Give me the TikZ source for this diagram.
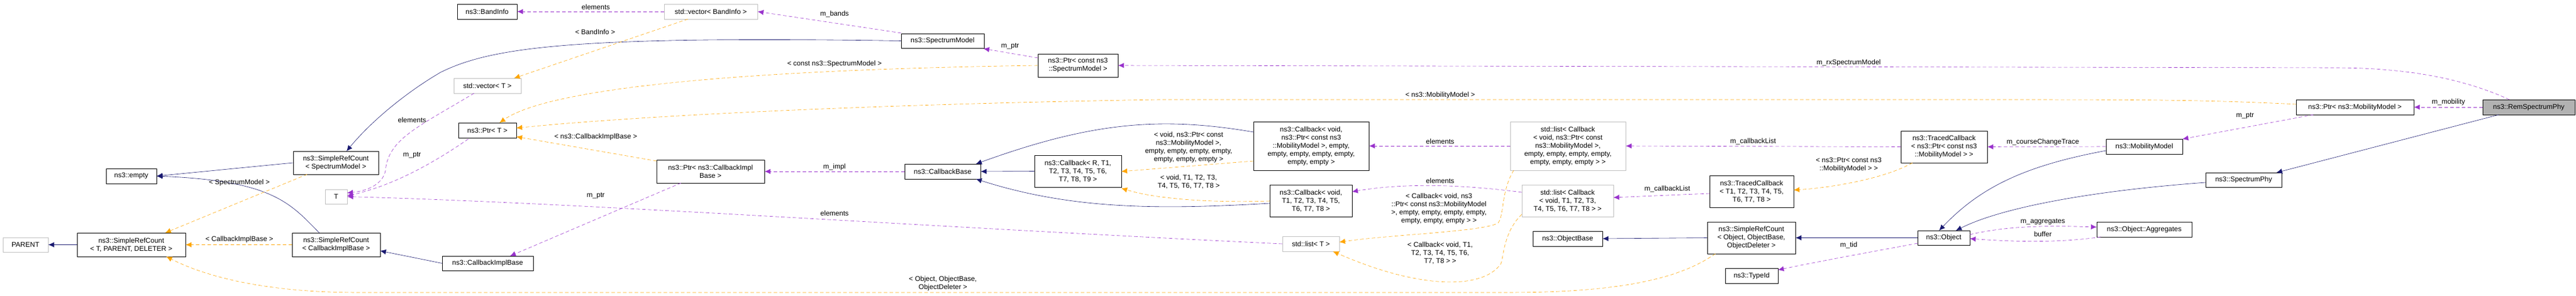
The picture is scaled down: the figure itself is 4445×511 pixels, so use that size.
\documentclass[tikz,border=0pt]{standalone}
\usepackage{fontspec}
\setmainfont{Liberation Sans}
\usetikzlibrary{arrows.meta}
\definecolor{navy}{RGB}{25,25,112}
\definecolor{orch}{RGB}{153,50,204}
\definecolor{orng}{RGB}{255,165,0}
\definecolor{gbord}{RGB}{191,191,191}
\begin{document}
\begin{tikzpicture}[x=1pt,y=-1pt,
 font=\fontsize{12}{14}\selectfont,
 box/.style={draw=black,thick,fill=white,inner sep=0pt,align=center},
 gbox/.style={box,draw=gbord},
 lbl/.style={inner sep=0pt,align=center},
 inh/.style={draw=navy,semithick,-{Latex[length=10pt,width=9pt]}},
 use/.style={draw=orch,semithick,dashed,dash pattern=on 6pt off 4pt,-{Latex[length=10pt,width=9pt]}},
 tpl/.style={draw=orng,semithick,dashed,dash pattern=on 6pt off 4pt,-{Latex[length=10pt,width=9pt]}}]
\useasboundingbox (0,0) rectangle (4445,511);
% nodes
\node[box,minimum width=87,minimum height=26] (empty) at (226.5,304) {ns3::empty};
\node[gbox,minimum width=78,minimum height=25] (parent) at (44,422.5) {PARENT};
\node[box,minimum width=187,minimum height=41] (srcT) at (226.5,422.5) {ns3::SimpleRefCount\\\textless{} T, PARENT, DELETER \textgreater};
\node[box,minimum width=147,minimum height=40] (srcSM) at (579.5,281) {ns3::SimpleRefCount\\\textless{} SpectrumModel \textgreater};
\node[gbox,minimum width=38,minimum height=25] (T) at (580,339.5) {T};
\node[box,minimum width=152,minimum height=41] (srcCIB) at (580,422.5) {ns3::SimpleRefCount\\\textless{} CallbackImplBase \textgreater};
\node[box,minimum width=103,minimum height=26] (bandinfo) at (840.5,20) {ns3::BandInfo};
\node[gbox,minimum width=161,minimum height=26] (vecBI) at (1226.5,20) {std::vector\textless{} BandInfo \textgreater};
\node[gbox,minimum width=116,minimum height=26] (vecT) at (841,148) {std::vector\textless{} T \textgreater};
\node[box,minimum width=100,minimum height=26] (ptrT) at (841,225) {ns3::Ptr\textless{} T \textgreater};
\node[box,minimum width=186,minimum height=40] (ptrCIB) at (1226,296) {ns3::Ptr\textless{} ns3::CallbackImpl\\Base \textgreater};
\node[box,minimum width=157,minimum height=25] (cib) at (841.5,454.5) {ns3::CallbackImplBase};
\node[box,minimum width=143,minimum height=25] (sm) at (1626.5,70.5) {ns3::SpectrumModel};
\node[box,minimum width=138,minimum height=40] (ptrSM) at (1860,113) {ns3::Ptr\textless{} const ns3\\::SpectrumModel \textgreater};
\node[box,minimum width=131,minimum height=26] (cbBase) at (1626.5,296) {ns3::CallbackBase};
\node[box,minimum width=150,minimum height=55] (cbR) at (1860,295.5) {ns3::Callback\textless{} R, T1,\\T2, T3, T4, T5, T6,\\T7, T8, T9 \textgreater};
\node[box,minimum width=199,minimum height=84] (cbPtr) at (2262.5,252) {ns3::Callback\textless{} void,\\ns3::Ptr\textless{} const ns3\\::MobilityModel \textgreater, empty,\\empty, empty, empty, empty,\\empty, empty \textgreater};
\node[gbox,minimum width=199,minimum height=84] (listPtr) at (2705.5,252) {std::list\textless{} Callback\\\textless{} void, ns3::Ptr\textless{} const\\ns3::MobilityModel \textgreater,\\empty, empty, empty, empty,\\empty, empty, empty \textgreater{} \textgreater};
\node[box,minimum width=142,minimum height=55] (cbT1) at (2262,346.5) {ns3::Callback\textless{} void,\\T1, T2, T3, T4, T5,\\T6, T7, T8 \textgreater};
\node[gbox,minimum width=158,minimum height=55] (listT1) at (2705,346.5) {std::list\textless{} Callback\\\textless{} void, T1, T2, T3,\\T4, T5, T6, T7, T8 \textgreater{} \textgreater};
\node[gbox,minimum width=98,minimum height=26] (listT) at (2262,421) {std::list\textless{} T \textgreater};
\node[box,minimum width=120,minimum height=26] (objBase) at (2705,412) {ns3::ObjectBase};
\node[box,minimum width=149,minimum height=55] (tcPtr) at (3354.5,253.5) {ns3::TracedCallback\\\textless{} ns3::Ptr\textless{} const ns3\\::MobilityModel \textgreater{} \textgreater};
\node[box,minimum width=145,minimum height=55] (tcT1) at (3022.5,330.5) {ns3::TracedCallback\\\textless{} T1, T2, T3, T4, T5,\\T6, T7, T8 \textgreater};
\node[box,minimum width=152,minimum height=55] (srcObj) at (3022,410.5) {ns3::SimpleRefCount\\\textless{} Object, ObjectBase,\\ObjectDeleter \textgreater};
\node[box,minimum width=90,minimum height=25] (object) at (3354,410.5) {ns3::Object};
\node[box,minimum width=91,minimum height=26] (typeId) at (3022.5,476) {ns3::TypeId};
\node[box,minimum width=203,minimum height=26] (ptrMM) at (4063.5,185) {ns3::Ptr\textless{} ns3::MobilityModel \textgreater};
\node[box,fill=gray!60,minimum width=159,minimum height=26] (rem) at (4363.5,185) {ns3::RemSpectrumPhy};
\node[box,minimum width=132,minimum height=26] (mm) at (3700,253) {ns3::MobilityModel};
\node[box,minimum width=131,minimum height=25] (sphy) at (3871.5,310.5) {ns3::SpectrumPhy};
\node[box,minimum width=164,minimum height=26] (agg) at (3700,396) {ns3::Object::Aggregates};
% coordinates
\coordinate (srcSMbl) at (530,301);
\coordinate (srcTtop) at (285,402);
\coordinate (srcTbot) at (287,443);
\coordinate (srcSMtop) at (598,261);
\coordinate (srcCIBtop) at (551,402);
\coordinate (srcCIBr) at (656,433);
\coordinate (smtl) at (1555,57);
\coordinate (smbr) at (1697,84);
\coordinate (ptrSMl) at (1791,100);
\coordinate (remtop) at (4330,172);
\coordinate (ptrMMb) at (3992,198);
\coordinate (mmtr) at (3766,240);
\coordinate (mmbl) at (3634,260);
\coordinate (tcT1l) at (2950,334);
\coordinate (listT1r) at (2784,341);
\coordinate (listT1l) at (2626,332);
\coordinate (cbT1r) at (2333,331);
\coordinate (ptrCIBb) at (1175,316);
\coordinate (cibt) at (880,442);
\coordinate (vecTb) at (818,161);
\coordinate (Ttr) at (599,333);
\coordinate (ptrTb) at (808,240);
\coordinate (Tr) at (599,338);
\coordinate (objbl) at (3309,420);
\coordinate (tidr) at (3068,466);
\coordinate (objtr) at (3399,405);
\coordinate (aggl) at (3618,392);
\coordinate (aggbl) at (3625,409);
\coordinate (objr) at (3399,412);
\coordinate (srcObjb) at (2960,438);
\coordinate (vecBIb) at (1187,33);
\coordinate (vecTt) at (887,135);
\coordinate (ptrTt) at (862,212);
\coordinate (ptrMMl) at (3962,180);
\coordinate (ptrTr) at (891,221);
\coordinate (ptrCIBl) at (1133,278);
\coordinate (ptrTr2) at (891,236);
\coordinate (cbPtrl) at (2163,278);
\coordinate (cbRr) at (1935,296);
\coordinate (cbT1l) at (2191,347);
\coordinate (cbRr2) at (1935,325);
\coordinate (listPtrbl) at (2612,294);
\coordinate (listTr) at (2311,418);
\coordinate (listT1bl) at (2626,370);
\coordinate (listTb) at (2300,434);
\coordinate (tcPtrb) at (3300,281);
\coordinate (tcT1r) at (3095,328);
\coordinate (cbPtrl2) at (2163,228);
\coordinate (cbBasetr) at (1684,283);
\coordinate (cbT1l2) at (2191,351);
\coordinate (cbBasebr) at (1684,309);
\coordinate (objtop) at (3346,398);
\coordinate (objtop2) at (3375,398);
\coordinate (sphyl) at (3806,315);
\coordinate (sphytr) at (3928,298);
\coordinate (remb) at (4312,198);
% inheritance
\draw[inh] (srcSM.west) -- (empty.east);
\draw[inh] (srcCIBtop) .. controls (500,350) and (470,312) .. (empty.east);
\draw[inh] (srcT.west) -- (parent.east);
\draw[inh] (sm.west) .. controls (1000,62) and (850,80) .. (760,125) .. controls (700,160) and (640,210) .. (srcSMtop);
\draw[inh] (cib.west) -- (srcCIBr);
\draw[inh] (cbR.west) -- (cbBase.east);
\draw[inh] (cbPtrl2) .. controls (2000,200) and (1880,212) .. (cbBasetr);
\draw[inh] (cbT1l2) .. controls (2000,362) and (1850,362) .. (cbBasebr);
\draw[inh] (object.west) -- (srcObj.east);
\draw[inh] (srcObj.west) -- (objBase.east);
\draw[inh] (mmbl) .. controls (3500,285) and (3420,320) .. (objtop);
\draw[inh] (sphyl) .. controls (3600,330) and (3450,360) .. (objtop2);
\draw[inh] (remb) -- (sphytr);
% usage
\draw[use] (vecBI.west) -- (bandinfo.east);
\node[lbl] (l1) at (1028,12) {elements};
\draw[use] (smtl) -- (vecBI.east);
\node[lbl] (l2) at (1440,24) {m\_bands};
\draw[use] (ptrSMl) -- (smbr);
\node[lbl] (l3) at (1743,80) {m\_ptr};
\draw[use] (remtop) .. controls (4250,135) and (4150,117) .. (4030,117) -- (ptrSM.east);
\node[lbl] (l4) at (3190,108) {m\_rxSpectrumModel};
\draw[use] (rem.west) -- (ptrMM.east);
\node[lbl] (l5) at (4225,176) {m\_mobility};
\draw[use] (ptrMMb) -- (mmtr);
\node[lbl] (l6) at (3874,200) {m\_ptr};
\draw[use] (mm.west) -- (tcPtr.east);
\node[lbl] (l7) at (3525,245) {m\_courseChangeTrace};
\draw[use] (tcPtr.west) -- (listPtr.east);
\node[lbl] (l8) at (3025,244) {m\_callbackList};
\draw[use] (listPtr.west) -- (cbPtr.east);
\node[lbl] (l9) at (2485,244) {elements};
\draw[use] (tcT1l) -- (listT1r);
\node[lbl] (l10) at (2877,326) {m\_callbackList};
\draw[use] (listT1l) .. controls (2520,318) and (2420,316) .. (cbT1r);
\node[lbl] (l11) at (2485,312) {elements};
\draw[use] (cbBase.west) -- (ptrCIB.east);
\node[lbl] (l12) at (1440,288) {m\_impl};
\draw[use] (ptrCIBb) -- (cibt);
\node[lbl] (l13) at (1028,338) {m\_ptr};
\draw[use] (listT.west) .. controls (1600,392) and (1000,350) .. (T.east);
\node[lbl] (l14) at (1440,368) {elements};
\draw[use] (vecTb) .. controls (720,220) and (670,240) .. (665,295) .. controls (660,320) and (630,330) .. (Ttr);
\node[lbl] (l15) at (711,207) {elements};
\draw[use] (ptrTb) .. controls (750,280) and (680,320) .. (Tr);
\node[lbl] (l16) at (711,268) {m\_ptr};
\draw[use] (objbl) .. controls (3200,440) and (3120,455) .. (tidr);
\node[lbl] (l17) at (3190,423) {m\_tid};
\draw[use] (objtr) .. controls (3470,388) and (3550,390) .. (aggl);
\node[lbl] (l18) at (3525,383) {m\_aggregates};
\draw[use] (aggbl) .. controls (3550,420) and (3470,417) .. (objr);
\node[lbl] (l19) at (3525,404) {buffer};
% templates
\draw[tpl] (srcSMbl) -- (srcTtop);
\node[lbl] (t1) at (413,315) {\textless{} SpectrumModel \textgreater};
\draw[tpl] (srcCIB.west) -- (srcT.east);
\node[lbl] (t2) at (413,413) {\textless{} CallbackImplBase \textgreater};
\draw[tpl] (srcObjb) .. controls (2900,480) and (2800,505) .. (2600,505) -- (620,505) .. controls (450,505) and (350,475) .. (srcTbot);
\node[lbl] (t3) at (1627,489) {\textless{} Object, ObjectBase,\\ObjectDeleter \textgreater};
\draw[tpl] (vecBIb) -- (vecTt);
\node[lbl] (t4) at (1027,55) {\textless{} BandInfo \textgreater};
\draw[tpl] (ptrSM.west) .. controls (1300,120) and (950,150) .. (ptrTt);
\node[lbl] (t5) at (1440,110) {\textless{} const ns3::SpectrumModel \textgreater};
\draw[tpl] (ptrMMl) .. controls (3800,172) and (3700,172) .. (3400,172) -- (2000,172) .. controls (1500,180) and (1100,200) .. (ptrTr);
\node[lbl] (t6) at (2485,164) {\textless{} ns3::MobilityModel \textgreater};
\draw[tpl] (ptrCIBl) -- (ptrTr2);
\node[lbl] (t7) at (1028,236) {\textless{} ns3::CallbackImplBase \textgreater};
\draw[tpl] (cbPtrl) -- (cbRr);
\node[lbl] (t8) at (2051,254) {\textless{} void, ns3::Ptr\textless{} const\\ns3::MobilityModel \textgreater,\\empty, empty, empty, empty,\\empty, empty, empty \textgreater};
\draw[tpl] (cbT1l) .. controls (2100,350) and (2000,345) .. (cbRr2);
\node[lbl] (t9) at (2051,314) {\textless{} void, T1, T2, T3,\\T4, T5, T6, T7, T8 \textgreater};
\draw[tpl] (listPtrbl) .. controls (2590,330) and (2596,370) .. (2585,385) .. controls (2560,400) and (2400,405) .. (listTr);
\node[lbl] (t10) at (2483,360) {\textless{} Callback\textless{} void, ns3\\::Ptr\textless{} const ns3::MobilityModel\\\textgreater, empty, empty, empty, empty,\\empty, empty, empty \textgreater{} \textgreater};
\draw[tpl] (listT1bl) .. controls (2595,400) and (2595,440) .. (2590,455) .. controls (2560,500) and (2450,500) .. (listTb);
\node[lbl] (t11) at (2485,437) {\textless{} Callback\textless{} void, T1,\\T2, T3, T4, T5, T6,\\T7, T8 \textgreater{} \textgreater};
\draw[tpl] (tcPtrb) .. controls (3250,310) and (3150,325) .. (tcT1r);
\node[lbl] (t12) at (3190,285) {\textless{} ns3::Ptr\textless{} const ns3\\::MobilityModel \textgreater{} \textgreater};
\end{tikzpicture}
\end{document}
